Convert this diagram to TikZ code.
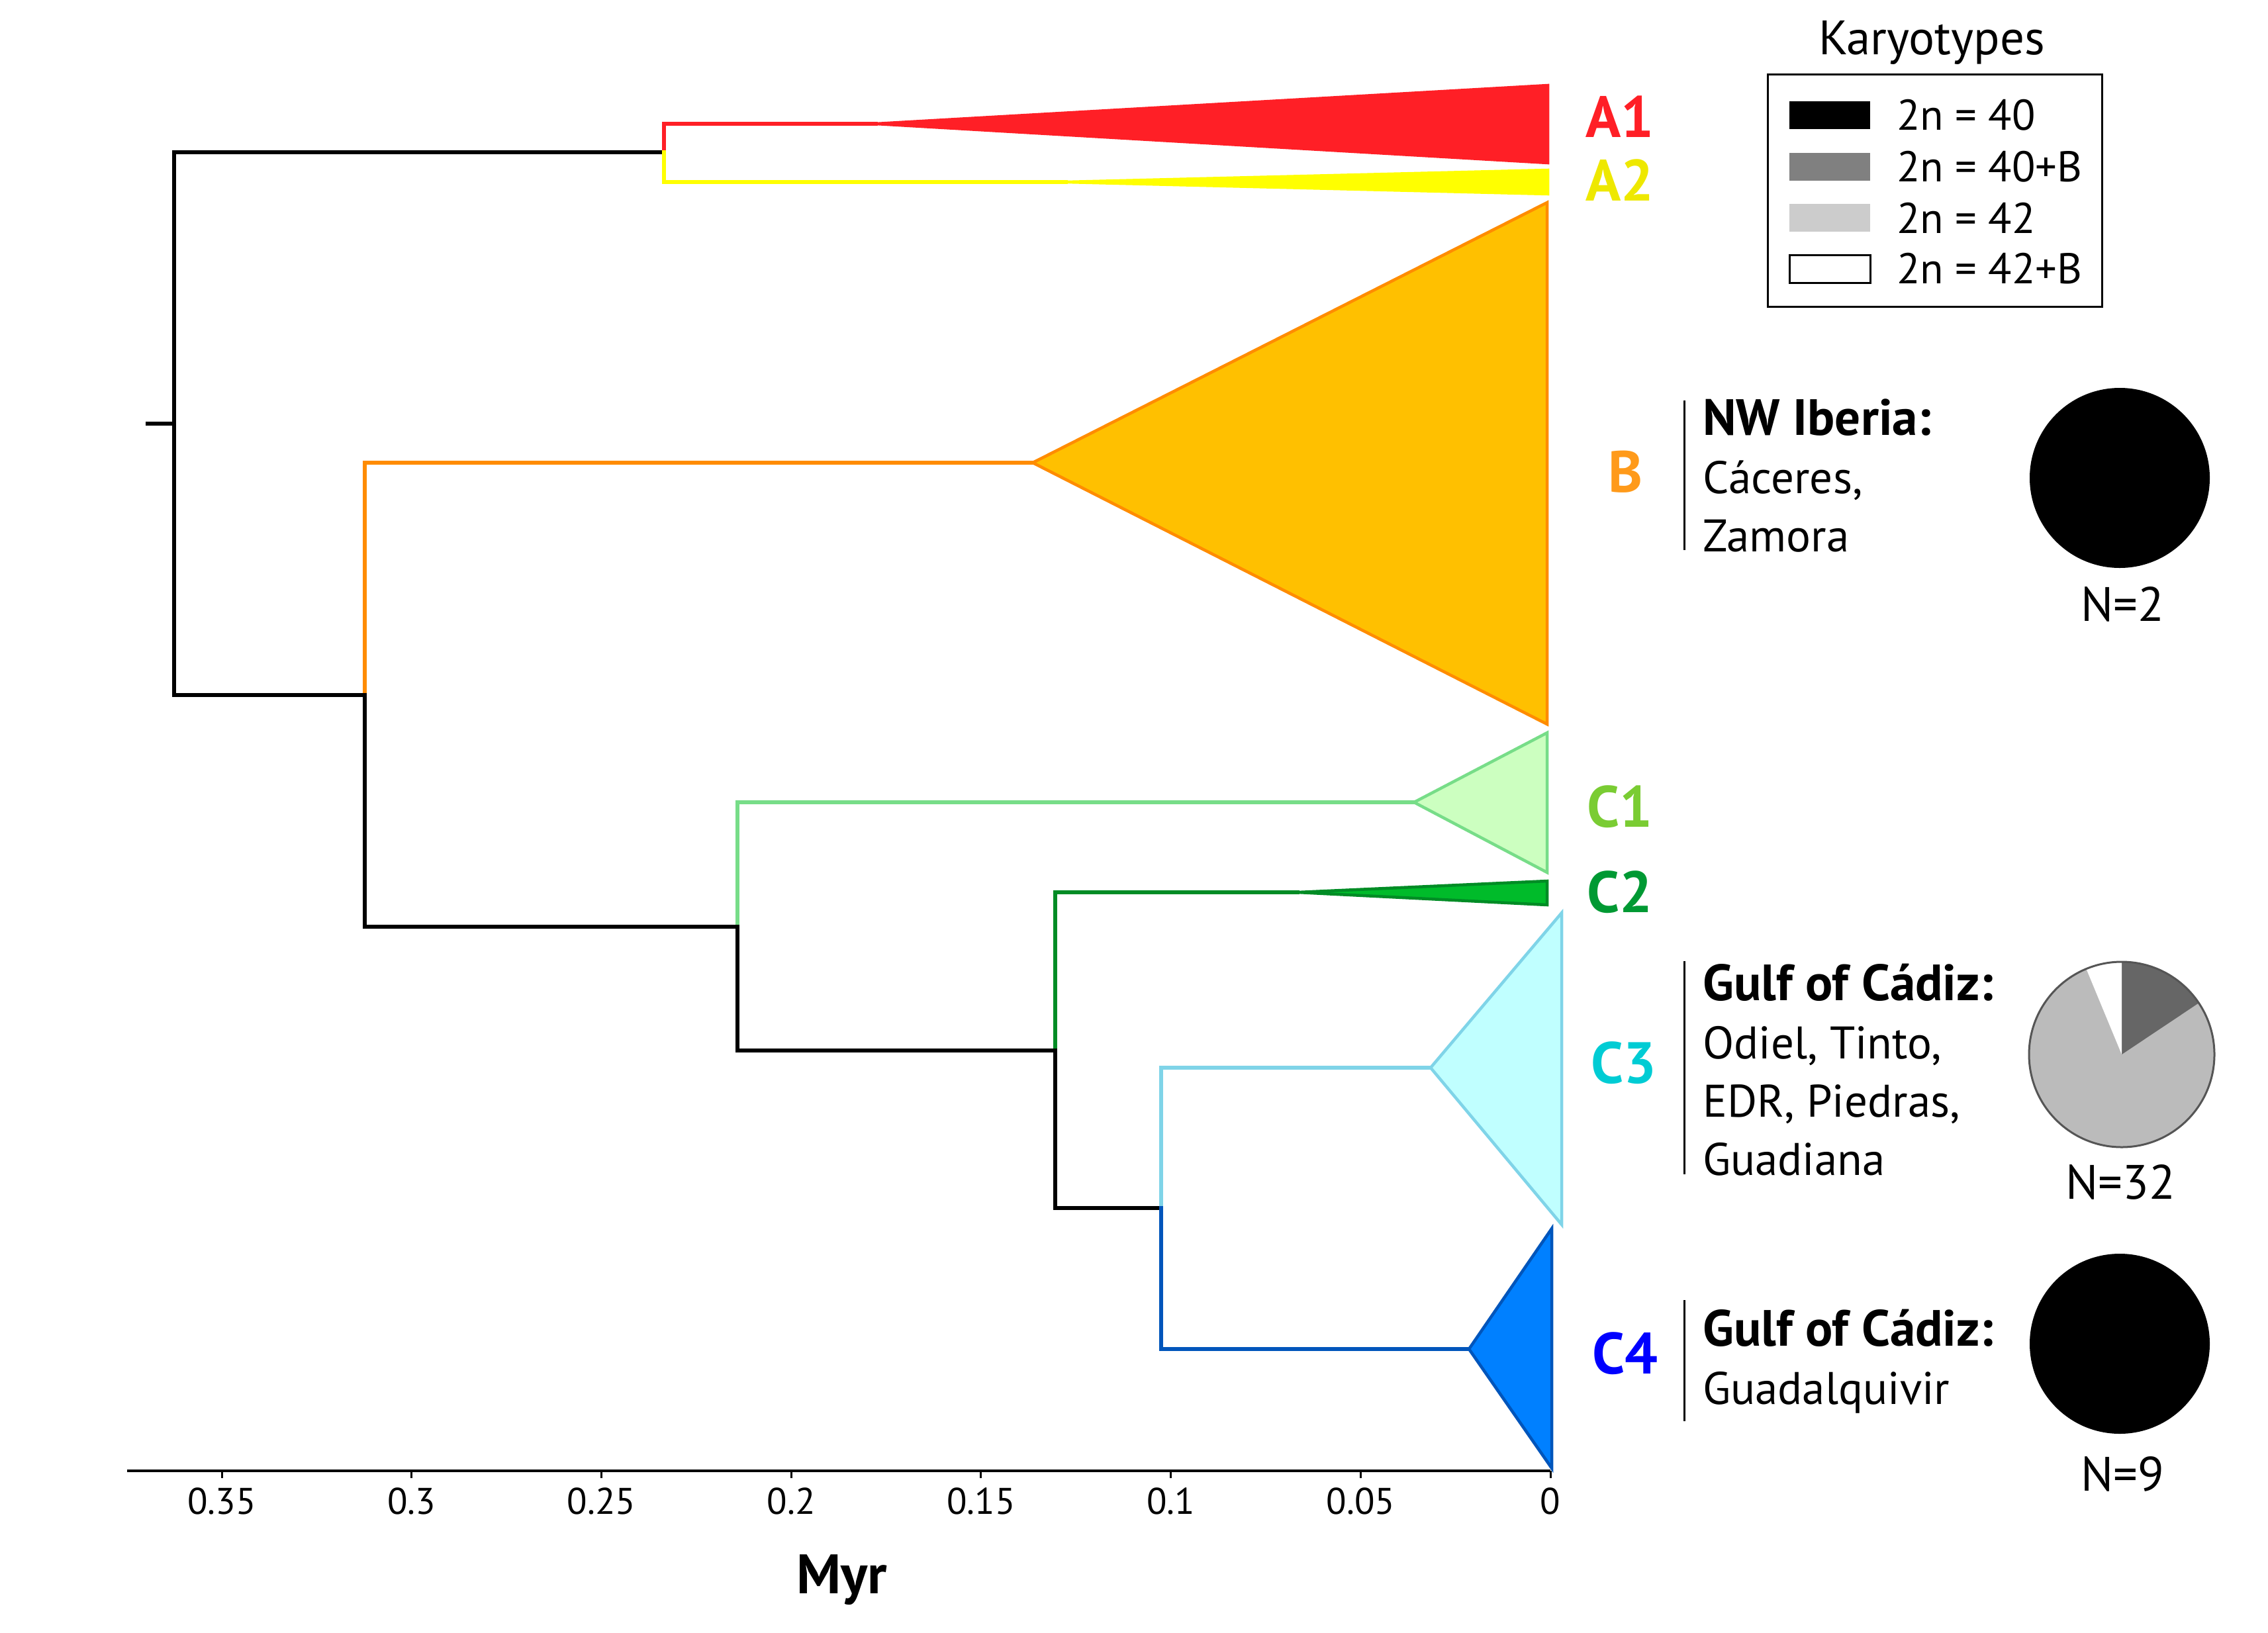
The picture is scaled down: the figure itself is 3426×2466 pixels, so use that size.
\documentclass[tikz,border=0pt]{standalone}
\usepackage{fontspec}
\setmainfont{PT Sans}

\definecolor{redA}{HTML}{FF1F26}
\definecolor{yellowA}{HTML}{FFFF00}
\definecolor{yellowLab}{HTML}{EEE800}
\definecolor{orangeLine}{HTML}{FF8C00}
\definecolor{orangeFill}{HTML}{FFC000}
\definecolor{orangeLab}{HTML}{FF9A1A}
\definecolor{lgreenLine}{HTML}{77DD88}
\definecolor{lgreenFill}{HTML}{CCFFC0}
\definecolor{lgreenLab}{HTML}{7ACC33}
\definecolor{dgreenLine}{HTML}{008C25}
\definecolor{dgreenFill}{HTML}{00BB2A}
\definecolor{dgreenLab}{HTML}{009933}
\definecolor{cyanLine}{HTML}{7FD4E8}
\definecolor{cyanFill}{HTML}{C0FFFF}
\definecolor{cyanLab}{HTML}{00CCD4}
\definecolor{blueLine}{HTML}{0055BB}
\definecolor{blueFill}{HTML}{0080FF}
\definecolor{blueLab}{HTML}{0000FF}
\definecolor{karyoB}{HTML}{808080}
\definecolor{karyoC}{HTML}{CCCCCC}
\definecolor{pieDark}{HTML}{666666}
\definecolor{pieLight}{HTML}{BBBBBB}
\definecolor{pieEdge}{HTML}{555555}

\newcommand{\headline}[1]{{\fontsize{77}{88}\selectfont\bfseries #1}}

\begin{document}
\begin{tikzpicture}[x=1pt, y=-1pt, line cap=rect,
    branch/.style={line width=5.5pt},
    clade/.style={line width=4.5pt},
    cladelabel/.style={font=\fontsize{88}{88}\selectfont\bfseries, inner sep=0pt},
    infotext/.style={font=\fontsize{69}{88}\selectfont, align=left, inner sep=0pt},
    legtext/.style={font=\fontsize{65}{65}\selectfont, inner sep=0pt},
    countlabel/.style={font=\fontsize{73}{73}\selectfont, inner sep=0pt},
    ticklabel/.style={font=\fontsize{56}{56}\selectfont, inner sep=0pt}]
        \useasboundingbox (0,0) rectangle (3426,2466);
        \def\xzero{2342}
        \def\tickstep{286.7}

        \coordinate (root) at (263,640);
        \coordinate (nA) at (1003,230);
        \coordinate (nBC) at (551,1050);
        \coordinate (nC) at (1114,1400);
        \coordinate (nCbcd) at (1594,1587);
        \coordinate (nCcd) at (1754,1825);
        \coordinate (tA1) at (1323,187);
        \coordinate (tA2) at (1610,275);
        \coordinate (tB) at (1560,699);
        \coordinate (tC1) at (2136,1212);
        \coordinate (tC2) at (1960,1348);
        \coordinate (tC3) at (2161,1613);
        \coordinate (tC4) at (2219,2038);
        \coordinate (stub) at (223,640);

        % collapsed clades
        \filldraw[clade, color=redA] (tA1) -- (2338,129) -- (2338,246) -- cycle;
        \filldraw[clade, draw=yellowA, fill=yellowA] (tA2) -- (2338,257) -- (2338,293) -- cycle;
        \filldraw[clade, draw=orangeLine, fill=orangeFill] (tB) -- (2337,306) -- (2337,1094) -- cycle;
        \filldraw[clade, draw=lgreenLine, fill=lgreenFill] (tC1) -- (2337,1107) -- (2337,1318) -- cycle;
        \filldraw[clade, draw=dgreenLine, fill=dgreenFill] (tC2) -- (2337,1331) -- (2337,1367) -- cycle;
        \filldraw[clade, draw=cyanLine, fill=cyanFill] (tC3) -- (2359,1379) -- (2359,1850) -- cycle;
        \filldraw[clade, draw=blueLine, fill=blueFill] (tC4) -- (2344,1856) -- (2344,2218) -- cycle;

        % branches
        \draw[branch] (stub) -- (root);
        \draw[branch] (root) |- (nA);
        \draw[branch] (root) |- (nBC);
        \draw[branch, color=redA] (nA) |- (tA1);
        \draw[branch, color=yellowA] (nA) |- (tA2);
        \draw[branch, color=orangeLine] (nBC) |- (tB);
        \draw[branch] (nBC) |- (nC);
        \draw[branch, color=lgreenLine] (nC) |- (tC1);
        \draw[branch] (nC) |- (nCbcd);
        \draw[branch, color=dgreenLine] (nCbcd) |- (tC2);
        \draw[branch] (nCbcd) |- (nCcd);
        \draw[branch, color=cyanLine] (nCcd) |- (tC3);
        \draw[branch, color=blueLine] (nCcd) |- (tC4);

        \node[cladelabel, text=redA] (labA1) at (2447,176) {A1};
        \node[cladelabel, text=yellowLab] (labA2) at (2447,272) {A2};
        \node[cladelabel, text=orangeLab] (labB) at (2455,713) {B};
        \node[cladelabel, text=lgreenLab] (labC1) at (2447,1219) {C1};
        \node[cladelabel, text=dgreenLab] (labC2) at (2447,1348) {C2};
        \node[cladelabel, text=cyanLab] (labC3) at (2453,1606) {C3};
        \node[cladelabel, text=blueLab] (labC4) at (2455,2045) {C4};

        % time axis
        \draw[line width=4.5pt, line cap=butt] (192,2222) -- (\xzero,2222);
        \foreach \k/\lab in {0/0, 1/0.05, 2/0.1, 3/0.15, 4/0.2, 5/0.25, 6/0.3, 7/0.35} {
            \draw[line width=3pt, line cap=butt] (\xzero-\k*\tickstep,2222) -- ++(0,11);
            \node[ticklabel] (tick\k) at (\xzero-\k*\tickstep,2268) {\lab};
        }
        \node[font=\fontsize{84}{84}\selectfont\bfseries, anchor=base, inner sep=0pt] (myr) at (1272,2407) {Myr};

        % localities (anchored at the baseline of the last line)
        \draw[line width=3pt, line cap=butt] (2544,605) -- (2544,831);
        \node[infotext, anchor=base west] (infoB) at (2572,833) {\headline{NW Iberia:}\\Cáceres,\\Zamora};
        \draw[line width=3pt, line cap=butt] (2544,1452) -- (2544,1774);
        \node[infotext, anchor=base west] (infoC3) at (2572,1775) {\headline{Gulf of Cádiz:}\\Odiel, Tinto,\\EDR, Piedras,\\Guadiana};
        \draw[line width=3pt, line cap=butt] (2544,1964) -- (2544,2147);
        \node[infotext, anchor=base west] (infoC4) at (2572,2121) {\headline{Gulf of Cádiz:}\\Guadalquivir};

        % karyotype pies
        \fill (3202,722) circle[radius=136];
        \fill[pieLight] (3205,1593) circle[radius=140];
        \fill[pieDark] (3205,1593) -- ++(-90:140) arc[start angle=-90, end angle=-33.75, radius=140] -- cycle;
        \fill[white] (3205,1593) -- ++(-90:140) arc[start angle=-90, end angle=-112.5, radius=140] -- cycle;
        \draw[line width=3pt, color=pieEdge] (3205,1593) circle[radius=140];
        \fill (3202,2030) circle[radius=136];
        \node[countlabel] (nB) at (3206,913) {N=2};
        \node[countlabel] (nC3) at (3203,1786) {N=32};
        \node[countlabel] (nC4) at (3206,2227) {N=9};

        % legend
        \node[font=\fontsize{73}{73}\selectfont, anchor=base, inner sep=0pt] (legtitle) at (2918,82) {Karyotypes};
        \draw[line width=3pt] (2670,112) rectangle (3175,463);
        \foreach \yy/\col/\txt [count=\k] in {174/black/{2n = 40}, 252/karyoB/{2n = 40+B}, 329/karyoC/{2n = 42}, 406/white/{2n = 42+B}} {
            \fill[\col] (2703,\yy-21) rectangle (2825,\yy+21);
            \node[legtext, anchor=west] (leg\k) at (2865,\yy) {\txt};
        }
        \draw[line width=3pt] (2703,385) rectangle (2825,427);

    \end{tikzpicture}
\end{document}
